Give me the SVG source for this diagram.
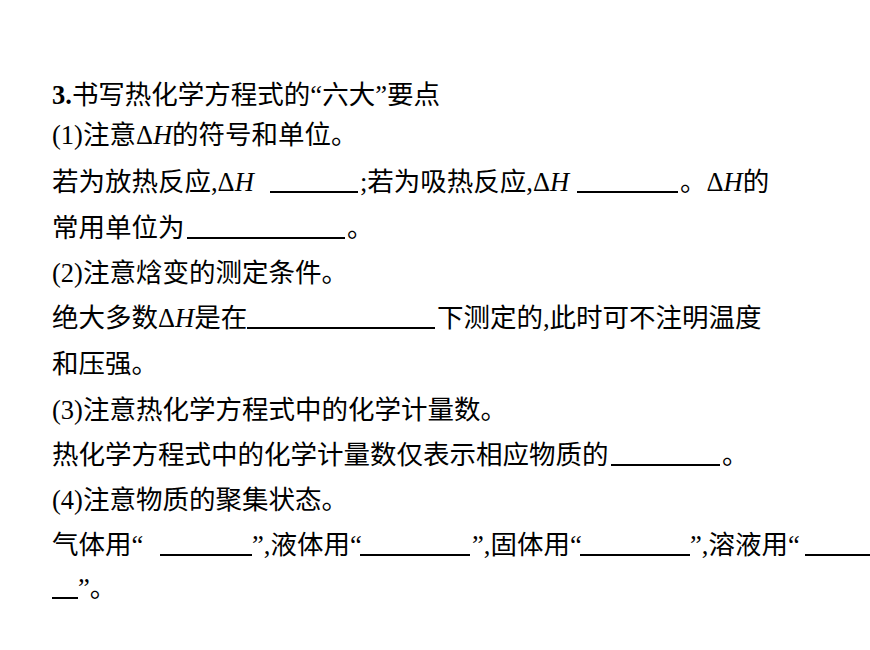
<svg xmlns="http://www.w3.org/2000/svg" width="870" height="650" viewBox="0 0 870 650">
<style>
text{font-family:"Liberation Serif","Noto Sans CJK SC",serif;font-size:26.5px;fill:#000}
.i{font-style:italic}
line{stroke:#000;stroke-width:2}
</style>
<rect width="870" height="650" fill="#fff"/>
<g id="title"><text x="52" y="104"><tspan font-weight="bold">3.</tspan>书写热化学方程式的“六大”要点</text></g>
<g id="p1">
<text x="52" y="144">(1)注意Δ<tspan class="i">H</tspan>的符号和单位。</text>
<text x="52" y="191">若为放热反应,Δ<tspan class="i">H</tspan></text>
<line x1="270" y1="192" x2="358" y2="192"/>
<text x="360" y="191">;若为吸热反应,Δ<tspan class="i">H</tspan></text>
<line x1="577" y1="192" x2="678" y2="192"/>
<text x="680" y="191">。Δ<tspan class="i">H</tspan>的</text>
<text x="52" y="237">常用单位为</text>
<line x1="187" y1="238" x2="345" y2="238"/>
<text x="347" y="237">。</text>
</g>
<g id="p2">
<text x="52" y="282">(2)注意焓变的测定条件。</text>
<text x="52" y="327">绝大多数Δ<tspan class="i">H</tspan>是在</text>
<line x1="247" y1="328" x2="435" y2="328"/>
<text x="437" y="327">下测定的,此时可不注明温度</text>
<text x="52" y="373">和压强。</text>
</g>
<g id="p3">
<text x="52" y="419">(3)注意热化学方程式中的化学计量数。</text>
<text x="52" y="464">热化学方程式中的化学计量数仅表示相应物质的</text>
<line x1="611" y1="465" x2="720" y2="465"/>
<text x="722" y="464">。</text>
</g>
<g id="p4">
<text x="52" y="509">(4)注意物质的聚集状态。</text>
<text x="52" y="554">气体用“</text>
<line x1="160" y1="555" x2="252" y2="555"/>
<text x="252" y="554">”,液体用“</text>
<line x1="360" y1="555" x2="470" y2="555"/>
<text x="472" y="554">”,固体用“</text>
<line x1="580" y1="555" x2="690" y2="555"/>
<text x="690" y="554">”,溶液用“</text>
<line x1="805" y1="555" x2="870" y2="555"/>
<line x1="52" y1="598" x2="78" y2="598"/>
<text x="78" y="597">”。</text>
</g>
</svg>
